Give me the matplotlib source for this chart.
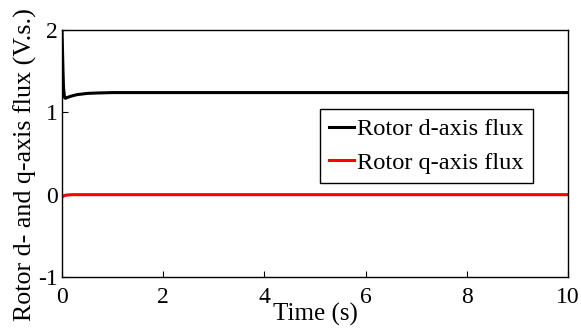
import matplotlib
matplotlib.use("Agg")
import matplotlib.pyplot as plt

plt.rcParams['font.family'] = ['Liberation Serif', 'DejaVu Serif']
plt.rcParams['axes.unicode_minus'] = False

# rotor flux components during start-up (time in s, flux in V.s.)
t_d = [0.0, 0.01, 0.02, 0.03, 0.05, 0.07, 0.1, 0.2, 0.3, 0.5, 0.7, 1.0, 2.0, 4.0, 6.0, 8.0, 10.0]
flux_d = [2.0, 1.75, 1.5, 1.3, 1.18, 1.17, 1.18, 1.20, 1.215, 1.23, 1.235, 1.24, 1.24, 1.24, 1.24, 1.24, 1.24]
t_q = [0.0, 0.02, 0.05, 0.1, 0.2, 0.3, 1.0, 4.0, 8.0, 10.0]
flux_q = [-0.03, -0.02, -0.01, -0.004, 0.0, 0.0, 0.0, 0.0, 0.0, 0.0]

fig = plt.figure(figsize=(5.81, 3.33), dpi=100)
ax = fig.add_axes([62 / 581, 1 - 277 / 333, 506 / 581, 247 / 333])

ax.plot(t_d, flux_d, color='black', lw=2.2, label='Rotor d-axis flux')
ax.plot(t_q, flux_q, color='red', lw=2.2, label='Rotor q-axis flux')

ax.set_xlim(0, 10)
ax.set_ylim(-1, 2)
ax.set_xticks([0, 2, 4, 6, 8, 10])
ax.set_yticks([-1, 0, 1, 2])
ax.tick_params(direction='in', length=4, labelsize=17)
ax.tick_params(axis='y', pad=3)
ax.tick_params(axis='x', pad=7)
for s in ax.spines.values():
    s.set_linewidth(1.0)

ax.set_xlabel('Time (s)', fontsize=18)
ax.xaxis.set_label_coords(0.5, -0.105)
ax.set_ylabel('Rotor d- and q-axis flux (V.s.)', fontsize=18.7)
ax.yaxis.set_label_coords(-0.05, 0.455)

leg = ax.legend(loc='upper left', bbox_to_anchor=(0.51, 0.68), fontsize=17.6,
                frameon=True, fancybox=False, edgecolor='black', framealpha=1,
                handlelength=1.0, handletextpad=0.12, borderpad=0.38,
                labelspacing=0.45, borderaxespad=0)
leg.get_frame().set_linewidth(1.0)

fig.savefig('out.png', dpi=100)
